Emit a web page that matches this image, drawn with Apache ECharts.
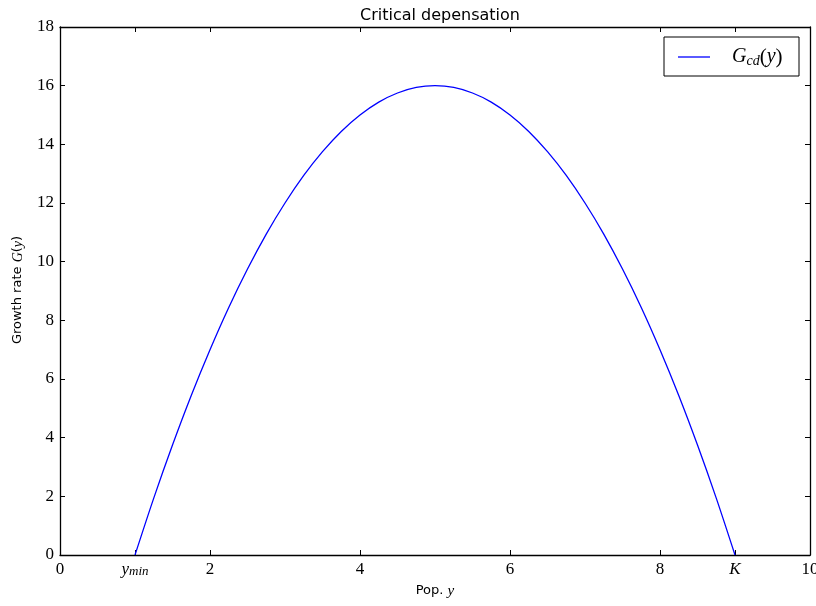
<!DOCTYPE html>
<html><head><meta charset="utf-8">
<script src="https://cdn.jsdelivr.net/npm/echarts@6/dist/echarts.min.js"></script>
<style>html,body{margin:0;padding:0;background:#fff}#c{width:816px;height:606px}</style>
</head><body><div id="c"></div>
<script>
const popY = [1, 1.25, 1.5, 1.75, 2, 2.25, 2.5, 2.75, 3, 3.25, 3.5, 3.75, 4, 4.25, 4.5, 4.75, 5,
              5.25, 5.5, 5.75, 6, 6.25, 6.5, 6.75, 7, 7.25, 7.5, 7.75, 8, 8.25, 8.5, 8.75, 9];
const growth = [0, 1.94, 3.75, 5.44, 7, 8.44, 9.75, 10.94, 12, 12.94, 13.75, 14.44, 15, 15.44, 15.75, 15.94, 16,
                15.94, 15.75, 15.44, 15, 14.44, 13.75, 12.94, 12, 10.94, 9.75, 8.44, 7, 5.44, 3.75, 1.94, 0];
const xTicks = [0, 1, 2, 4, 6, 8, 9, 10];
const xTickLabels = {0:'0', 1:'{it|y}{sub|min}', 2:'2', 4:'4', 6:'6', 8:'8', 9:'{it|K}', 10:'10'};

const chart = echarts.init(document.getElementById('c'));
const serif = 'Liberation Serif';
const sans = 'DejaVu Sans';
const axisLine = {show: true, onZero: false, lineStyle: {color: '#000', width: 1.3}};
function tk(custom) {
  const t = {show: true, inside: true, length: 5, lineStyle: {color: '#000', width: 1}};
  if (custom) t.customValues = custom;
  return t;
}
chart.setOption({
  animation: false,
  title: {text: 'Critical depensation', left: 435, top: 3, textAlign: 'center',
    textStyle: {fontFamily: sans, fontSize: 16, fontWeight: 'normal', color: '#000'}},
  grid: {left: 60, right: 6, top: 27, bottom: 51, containLabel: false, outerBoundsMode: 'none'},
  legend: {show: false},
  graphic: [
    {type: 'rect', shape: {x: 664, y: 37, width: 135, height: 39}, style: {fill: '#fff', stroke: '#000', lineWidth: 1}},
    {type: 'line', shape: {x1: 678, y1: 57, x2: 710, y2: 57}, style: {stroke: '#0000ff', lineWidth: 1.3}},
    {type: 'text', x: 732, y: 57, style: {text: '{g|G}{s|cd}{p|(}{g|y}{p|)}', verticalAlign: 'middle',
      rich: {g: {fontFamily: serif, fontStyle: 'italic', fontSize: 20, fill: '#000'},
             s: {fontFamily: serif, fontStyle: 'italic', fontSize: 14, fill: '#000', padding: [9,0,0,0]},
             p: {fontFamily: serif, fontSize: 21, fill: '#000'}}}},
    {type: 'text', x: 18, y: 290, rotation: Math.PI/2, style: {text: 'Growth rate {it|G}({it|y})', align: 'center', verticalAlign: 'middle',
      fontFamily: sans, fontSize: 13, fill: '#000',
      rich: {it: {fontFamily: serif, fontStyle: 'italic', fontSize: 14}}}},
    {type: 'text', x: 435, y: 591, style: {text: 'Pop. {it|y}', align: 'center', verticalAlign: 'middle',
      fontFamily: sans, fontSize: 13, fill: '#000',
      rich: {it: {fontFamily: serif, fontStyle: 'italic', fontSize: 15}}}}
  ],
  xAxis: [
    {type: 'value', min: 0, max: 10, position: 'bottom', axisLine, splitLine: {show: false},
      axisTick: tk(xTicks),
      axisLabel: {customValues: xTicks, margin: 6, color: '#000', fontFamily: serif, fontSize: 17, lineHeight: 18,
        formatter: v => xTickLabels[v],
        rich: {it: {fontFamily: serif, fontStyle: 'italic', fontSize: 17, lineHeight: 18, color: '#000'},
               sub: {fontFamily: serif, fontStyle: 'italic', fontSize: 13, lineHeight: 18, color: '#000', padding: [3,0,0,0]}}}},
    {type: 'value', min: 0, max: 10, position: 'top', axisLine, splitLine: {show: false},
      axisTick: tk(xTicks), axisLabel: {show: false}}
  ],
  yAxis: [
    {type: 'value', min: 0, max: 18, interval: 2, position: 'left', axisLine, splitLine: {show: false},
      axisTick: tk(), axisLabel: {margin: 6, color: '#000', fontFamily: serif, fontSize: 17}},
    {type: 'value', min: 0, max: 18, interval: 2, position: 'right', axisLine, splitLine: {show: false},
      axisTick: tk(), axisLabel: {show: false}}
  ],
  series: [{type: 'line', name: 'G_cd(y)', xAxisIndex: 0, yAxisIndex: 0, smooth: 0.3, showSymbol: false,
    lineStyle: {color: '#0000ff', width: 1.3},
    data: popY.map((x, i) => [x, growth[i]])}]
});
</script></body></html>
